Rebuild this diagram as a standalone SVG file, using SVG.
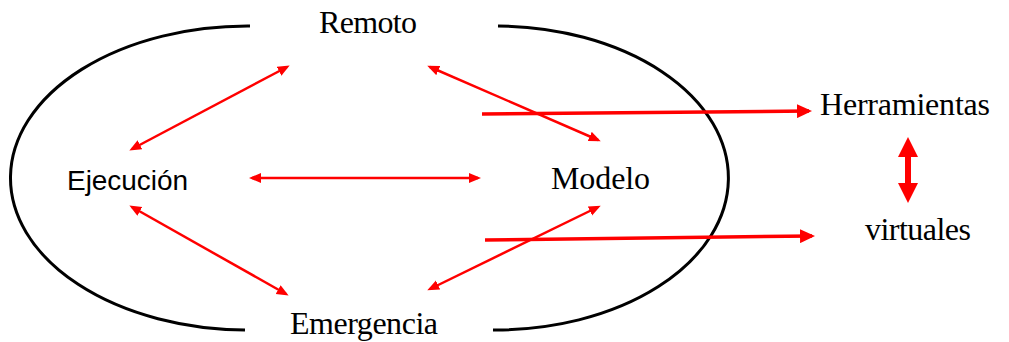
<svg xmlns="http://www.w3.org/2000/svg" width="1009" height="342" viewBox="0 0 1009 342">
<style>
.serif{font-family:"Liberation Serif","Times New Roman",serif;font-size:32px;fill:#000}
.sans{font-family:"Liberation Sans",Arial,sans-serif;font-size:28px;fill:#000}
.arc{fill:none;stroke:#000;stroke-width:3}
.thin{stroke:#ff0000;stroke-width:2.5;fill:none;marker-start:url(#h);marker-end:url(#h)}
.thick{stroke:#ff0000;stroke-width:3.5;fill:none;marker-end:url(#H)}
</style>
<defs>
<marker id="h" markerUnits="userSpaceOnUse" markerWidth="13" markerHeight="11" refX="9" refY="5" orient="auto-start-reverse"><path d="M0,0 L12,5 L0,10 z" fill="#ff0000"/></marker>
<marker id="H" markerUnits="userSpaceOnUse" markerWidth="16" markerHeight="14" refX="12" refY="7" orient="auto"><path d="M0,0 L15,7 L0,14 z" fill="#ff0000"/></marker>
</defs>
<rect width="1009" height="342" fill="#fff"/>
<g id="frame">
<path class="arc" d="M250,26 A237,152 0 0 0 245,330"/>
<path class="arc" d="M498,26 A233,152 0 0 1 493,330"/>
</g>
<g id="connectors">
<line class="thin" x1="132" y1="149" x2="287" y2="67"/>
<line class="thin" x1="252" y1="178" x2="478" y2="178"/>
<line class="thin" x1="132" y1="207" x2="286" y2="294"/>
<line class="thin" x1="430" y1="67" x2="598" y2="140"/>
<line class="thin" x1="598" y1="207" x2="430" y2="289"/>
<line class="thick" x1="482" y1="114" x2="809" y2="111"/>
<line class="thick" x1="485" y1="240" x2="812" y2="236"/>
<path d="M908,137 L918,157 L911,157 L911,183 L918,183 L908,203 L898,183 L905,183 L905,157 L898,157 z" fill="#ff0000"/>
</g>
<g id="remoto"><text class="serif" x="368" y="33" text-anchor="middle" textLength="98">Remoto</text></g>
<g id="ejecucion"><text class="sans" x="67" y="190" textLength="121">Ejecución</text></g>
<g id="modelo"><text class="serif" x="551" y="189" textLength="99">Modelo</text></g>
<g id="emergencia"><text class="serif" x="290" y="334" textLength="148">Emergencia</text></g>
<g id="herramientas"><text class="serif" x="820" y="115" textLength="170">Herramientas</text></g>
<g id="virtuales"><text class="serif" x="865" y="240" textLength="106">virtuales</text></g>
</svg>
